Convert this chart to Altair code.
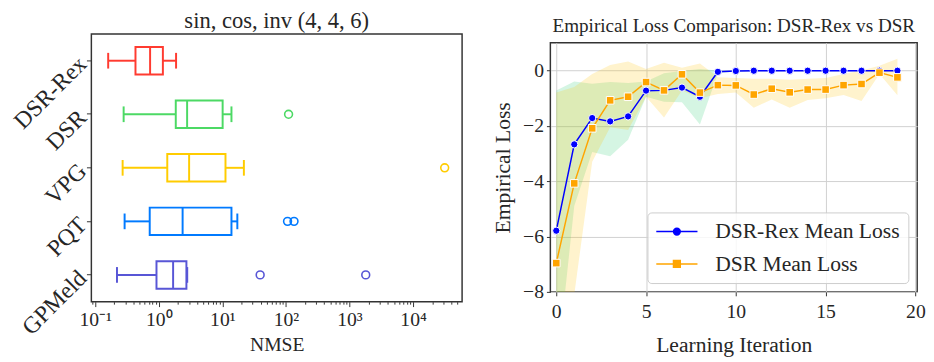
import altair as alt
import pandas as pd

FONT = "Liberation Serif"
TXT = "#262626"

# ---------------- Left panel: NMSE box plots ----------------
methods = ["DSR-Rex", "DSR", "VPG", "PQT", "GPMeld"]
whisker_low = [0.16, 0.28, 0.27, 0.29, 0.22]
q1 = [0.43, 1.85, 1.36, 0.72, 0.92]
median = [0.73, 2.79, 3.0, 2.37, 1.68]
q3 = [1.16, 10.1, 11.2, 13.9, 2.72]
whisker_high = [1.87, 13.9, 21.8, 17.2, 2.8]
outlier_method = ["DSR", "VPG", "PQT", "PQT", "GPMeld", "GPMeld"]
outlier_value = [110, 31400, 106, 134, 39.3, 1800]
method_colors = ["#FF3B30", "#4CD964", "#FFCC00", "#007AFF", "#5856D6"]

major_ticks = [0.1, 1, 10, 100, 1000, 10000]
major_labels = ["10⁻¹", "10⁰", "10¹", "10²", "10³", "10⁴"]

# ---------------- Right panel: empirical loss ----------------
iterations = list(range(20))
rex_mean = [-5.79, -2.67, -1.72, -1.84, -1.66, -0.73, -0.72, -0.62, -0.95, -0.05,
            -0.02, -0.01, -0.01, -0.01, -0.01, -0.01, -0.01, -0.01, -0.01, -0.01]
rex_low = [-11.0, -4.9, -2.95, -3.1, -2.5, -0.95, -1.13, -1.15, -1.95, -0.1,
           -0.04, -0.03, -0.03, -0.03, -0.03, -0.03, -0.03, -0.03, -0.03, -0.03]
rex_high = [-0.72, -0.4, -0.48, -0.42, -0.45, -0.4, -0.1, -0.02, 0.05, 0.0,
            0.0, 0.01, 0.01, 0.01, 0.01, 0.01, 0.01, 0.01, 0.01, 0.01]
dsr_mean = [-6.96, -4.08, -2.09, -1.08, -0.95, -0.42, -0.72, -0.14, -0.80, -0.53,
            -0.54, -0.87, -0.66, -0.79, -0.69, -0.69, -0.53, -0.49, -0.08, -0.25]
dsr_low = [-14.0, -8.1, -3.3, -2.05, -2.15, -0.95, -1.7, -0.72, -1.0, -0.85,
           -0.8, -1.35, -1.05, -1.35, -1.07, -1.0, -0.89, -1.1, -0.13, -0.9]
dsr_high = [-0.8, -0.6, -0.13, 0.2, 0.32, 0.05, 0.28, 0.1, 0.25, -0.25,
            -0.27, -0.3, -0.3, -0.34, -0.3, -0.27, -0.13, 0.0, 0.17, 0.42]
series_names = ["DSR-Rex Mean Loss", "DSR Mean Loss"]
series_colors = ["#0000FF", "#FFA500"]
band_colors = ["#2ECC71", "#FFC107"]
x_ticks_r = [0, 5, 10, 15, 20]
y_ticks_r = [-8, -6, -4, -2, 0]

# ---------------- Left chart ----------------
box_df = pd.DataFrame({"method": methods, "lo": whisker_low, "q1": q1,
                       "med": median, "q3": q3, "hi": whisker_high})
out_df = pd.DataFrame({"method": outlier_method, "value": outlier_value})

minor_ticks = [m * 10.0 ** e for e in range(-2, 5) for m in range(2, 10)
               if 0.087 <= m * 10.0 ** e <= 59000]
label_expr = " : ".join(f"datum.value == {v} ? '{l}'" for v, l in zip(major_ticks, major_labels)) + " : ''"
major_test = " || ".join(f"datum.value == {v}" for v in major_ticks)

xscale = alt.Scale(type="log", domain=[0.087, 59000], nice=False)
x_axis = alt.Axis(title="NMSE", values=major_ticks + minor_ticks, labelExpr=label_expr,
                  tickSize={"condition": {"test": major_test, "value": 5}, "value": 2.5},
                  labelFontSize=20, titleFontSize=20, labelOverlap=False, labelFlush=False,
                  grid=False, labelPadding=3, titlePadding=6)
color_scale = alt.Scale(domain=methods, range=method_colors)
y_enc = alt.Y("method:N", sort=methods,
              scale=alt.Scale(domain=methods, paddingInner=0, paddingOuter=0),
              axis=alt.Axis(title=None, labelAngle=-45, labelAlign="right", labelBaseline="middle",
                            labelFontSize=24, tickSize=5, labelPadding=4, grid=False))
col = alt.Color("method:N", scale=color_scale, legend=None)

base = alt.Chart(box_df)
whisk_l = base.mark_rule(strokeWidth=2).encode(
    x=alt.X("lo:Q", scale=xscale, axis=x_axis), x2="q1:Q", y=y_enc, color=col)
whisk_r = base.mark_rule(strokeWidth=2).encode(
    x=alt.X("q3:Q", scale=xscale, axis=x_axis), x2="hi:Q", y=y_enc, color=col)
box = base.mark_bar(size=28, fill="white", strokeWidth=2).encode(
    x=alt.X("q1:Q", scale=xscale, axis=x_axis), x2="q3:Q", y=y_enc,
    stroke=alt.Stroke("method:N", scale=color_scale, legend=None))
med = base.mark_tick(size=28, thickness=2, opacity=1).encode(
    x=alt.X("med:Q", scale=xscale, axis=x_axis), y=y_enc, color=col)
cap_lo = base.mark_tick(size=16, thickness=2, opacity=1).encode(
    x=alt.X("lo:Q", scale=xscale, axis=x_axis), y=y_enc, color=col)
cap_hi = base.mark_tick(size=16, thickness=2, opacity=1).encode(
    x=alt.X("hi:Q", scale=xscale, axis=x_axis), y=y_enc, color=col)
outl = alt.Chart(out_df).mark_point(shape="circle", filled=False, size=64, strokeWidth=1.6, opacity=1).encode(
    x=alt.X("value:Q", scale=xscale, axis=x_axis), y=y_enc, color=col)

left = alt.layer(whisk_l, whisk_r, box, med, cap_lo, cap_hi, outl).properties(
    width=378, height=273,
    title=alt.TitleParams("sin, cos, inv (4, 4, 6)", fontSize=23, offset=1))

# ---------------- Right chart ----------------
line_df = pd.DataFrame({"iter": iterations, "rex": rex_mean, "rex_lo": rex_low, "rex_hi": rex_high,
                        "dsr": dsr_mean, "dsr_lo": dsr_low, "dsr_hi": dsr_high})
xr_scale = alt.Scale(domain=[-0.33, 20.1], nice=False)
yr_scale = alt.Scale(domain=[-8, 1], nice=False)
xr_axis = alt.Axis(title="Learning Iteration", values=x_ticks_r, grid=True, gridColor="#d0d0d0",
                   labelFontSize=20, titleFontSize=22, tickSize=4, labelFlush=False,
                   labelPadding=6, titlePadding=14)
yr_axis = alt.Axis(title="Empirical Loss", values=y_ticks_r, grid=True, gridColor="#d0d0d0",
                   labelFontSize=20, titleFontSize=22, tickSize=4, labelPadding=3, titlePadding=8)
xr = alt.X("iter:Q", scale=xr_scale, axis=xr_axis)

rbase = alt.Chart(line_df)
band_rex = rbase.mark_area(color=band_colors[0], opacity=0.2, clip=True).encode(
    x=xr, y=alt.Y("rex_lo:Q", scale=yr_scale, axis=yr_axis), y2="rex_hi:Q")
band_dsr = rbase.mark_area(color=band_colors[1], opacity=0.2, clip=True).encode(
    x=xr, y=alt.Y("dsr_lo:Q", scale=yr_scale, axis=yr_axis), y2="dsr_hi:Q")
line_rex = rbase.mark_line(color=series_colors[0], strokeWidth=1.5, clip=True).encode(
    x=xr, y=alt.Y("rex:Q", scale=yr_scale, axis=yr_axis))
pts_rex = rbase.mark_point(shape="circle", filled=True, size=55, color=series_colors[0],
                           stroke="white", strokeWidth=1, opacity=1, clip=True).encode(
    x=xr, y=alt.Y("rex:Q", scale=yr_scale, axis=yr_axis))
line_dsr = rbase.mark_line(color=series_colors[1], strokeWidth=1.5, clip=True).encode(
    x=xr, y=alt.Y("dsr:Q", scale=yr_scale, axis=yr_axis))
pts_dsr = rbase.mark_point(shape="square", filled=True, size=60, color=series_colors[1],
                           stroke="white", strokeWidth=1, opacity=1, clip=True).encode(
    x=xr, y=alt.Y("dsr:Q", scale=yr_scale, axis=yr_axis))

# legend symbols: a short line with a marker in the middle (unit = half of sqrt(symbolSize))
circle_path = "M-1,0H0.67M1.33,0H3M0.67,0A0.33,0.33,0,1,0,1.33,0A0.33,0.33,0,1,0,0.67,0Z"
square_path = "M-1,0H0.67M1.33,0H3M0.67,-0.33H1.33V0.33H0.67Z"
leg = alt.Legend(title=None, orient="bottom-right", offset=9, labelLimit=400)
legend_df = pd.DataFrame({"series": series_names})
legend_layer = alt.Chart(legend_df).transform_filter("false").mark_point(opacity=1).encode(
    fill=alt.Fill("series:N", scale=alt.Scale(domain=series_names, range=series_colors), legend=leg),
    stroke=alt.Stroke("series:N", scale=alt.Scale(domain=series_names, range=series_colors), legend=leg),
    shape=alt.Shape("series:N", scale=alt.Scale(domain=series_names, range=[circle_path, square_path]), legend=leg),
)

right = alt.layer(band_rex, band_dsr, line_rex, pts_rex, line_dsr, pts_dsr, legend_layer).properties(
    width=374, height=254,
    title=alt.TitleParams("Empirical Loss Comparison: DSR-Rex vs DSR", fontSize=19.5, offset=6))

spacer_vals = [0]


def spacer():
    return alt.Chart(pd.DataFrame({"s": spacer_vals})).mark_rule(opacity=0, strokeWidth=0.1).encode(
        x=alt.value(1), x2=alt.value(2), y=alt.value(0.5)
    ).properties(width=300, height=1, view=alt.ViewBackground(stroke="transparent"))


indep = dict(color="independent", fill="independent", stroke="independent", shape="independent")
chart = alt.hconcat(
    alt.vconcat(spacer(), left, spacing=0).resolve_scale(**indep),
    alt.vconcat(spacer(), right, spacing=6).resolve_scale(**indep),
    spacing=28,
).resolve_scale(**indep).properties(
    padding={"left": 0, "top": -5, "right": 0, "bottom": 0}
).configure_view(
    stroke="#333333", strokeWidth=1.5
).configure_axis(
    labelFont=FONT, titleFont=FONT, labelColor=TXT, titleColor=TXT, titleFontWeight="normal",
    domain=False, tickColor="#333333", tickWidth=1
).configure_title(
    font=FONT, color=TXT, fontWeight="normal"
).configure_legend(
    labelFont=FONT, labelFontSize=22, labelColor=TXT, fillColor="rgba(255,255,255,0.8)",
    strokeColor="#cccccc", cornerRadius=4, padding=8, symbolSize=441, symbolStrokeWidth=1.5,
    rowPadding=10, labelOffset=38
)

chart.save("out.html", embed_options={"renderer": "svg", "actions": False})
